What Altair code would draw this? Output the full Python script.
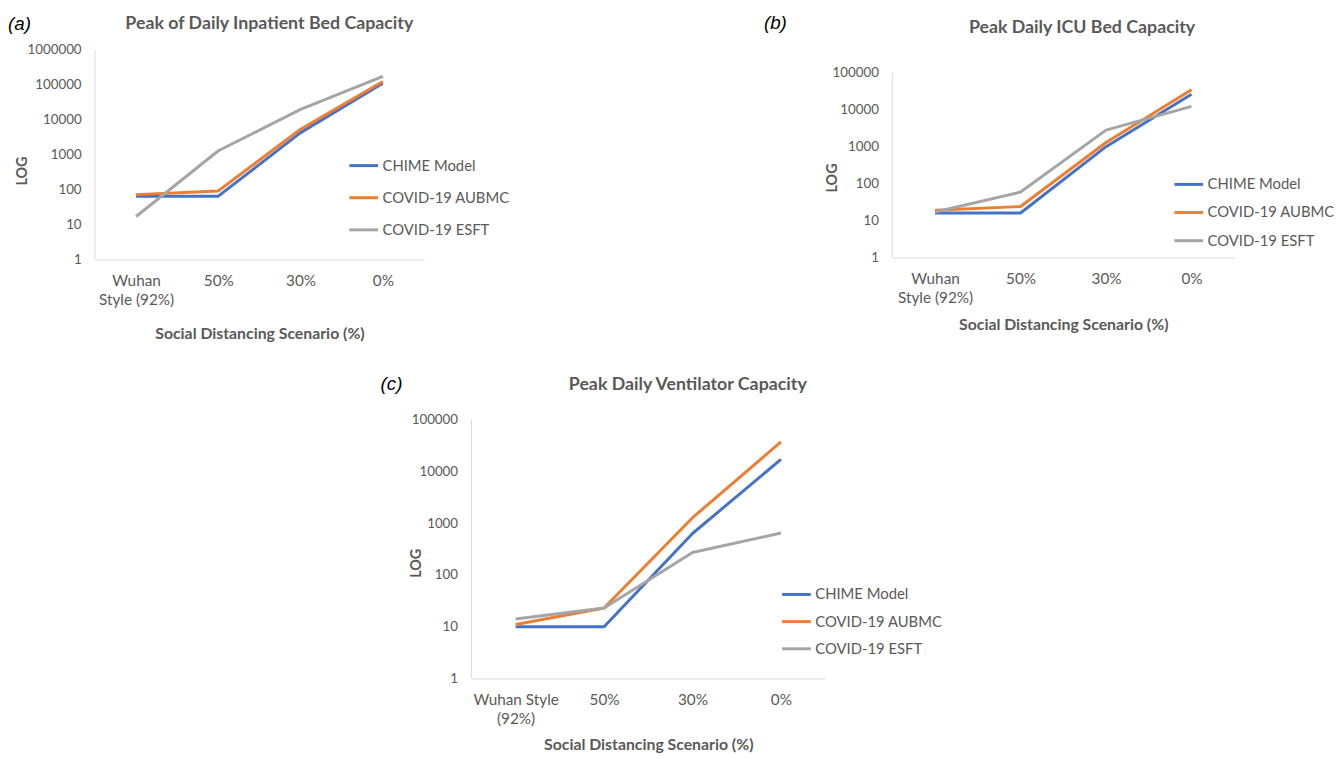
import math
import altair as alt
import pandas as pd

scenarios = ["Wuhan Style (92%)", "50%", "30%", "0%"]
series_names = ["CHIME Model", "COVID-19 AUBMC", "COVID-19 ESFT"]
series_colors = ["#4472C4", "#ED7D31", "#A5A5A5"]

# (a) Peak of Daily Inpatient Bed Capacity
inpatient_chime = [65, 65, 4300, 112000]
inpatient_aubmc = [72, 92, 5400, 125000]
inpatient_esft = [17, 1300, 20000, 175000]

# (b) Peak Daily ICU Bed Capacity
icu_chime = [16, 16, 1000, 26000]
icu_aubmc = [19, 24, 1290, 34500]
icu_esft = [17, 59, 2800, 12300]

# (c) Peak Daily Ventilator Capacity
vent_chime = [10, 10, 630, 17000]
vent_aubmc = [11, 23, 1270, 37000]
vent_esft = [14, 23, 270, 645]

FONT = "Lato"
GREY = "#595959"
AXIS_LINE = "#D9D9D9"


def table(chime, aubmc, esft):
    rows = []
    for name, vals in zip(series_names, [chime, aubmc, esft]):
        for s, v in zip(scenarios, vals):
            rows.append({"scenario": s, "series": name, "value": v})
    return pd.DataFrame(rows)


def panel(letter, title, df, w, h, ytop, ymax, wuhan_lines, lx, ly, rowpad,
          lpad, ytx, yty, letx, lety, toff, tdx, xtpad):
    label_expr = ("datum.label == 'Wuhan Style (92%)' ? "
                  f"['{wuhan_lines[0]}', '{wuhan_lines[1]}'] : datum.label")
    yvals = [10 ** i for i in range(0, int(round(math.log10(ymax))) + 1)]
    yscale = alt.Scale(type="log", domain=[1, ytop], nice=False)
    lines = alt.Chart(df).mark_line(strokeWidth=3, strokeJoin="round").encode(
        x=alt.X(
            "scenario:N", sort=scenarios, title="Social Distancing Scenario (%)",
            axis=alt.Axis(
                labelAngle=0, labelExpr=label_expr, ticks=False, grid=False,
                domainColor=AXIS_LINE, labelFont=FONT, labelFontSize=15.5,
                labelColor=GREY, labelPadding=14, labelLineHeight=20,
                titleFont=FONT, titleFontSize=16, titleFontWeight="bold",
                titleColor=GREY, titlePadding=xtpad,
            ),
        ),
        y=alt.Y(
            "value:Q", title="LOG", scale=yscale,
            axis=alt.Axis(
                values=yvals, format="d", ticks=False, grid=False,
                domain=False, labelFont=FONT, labelFontSize=13.5,
                labelColor=GREY, labelPadding=14, titleFont=FONT,
                titleFontSize=14.5, titleFontWeight="bold", titleColor=GREY,
                titleX=ytx, titleY=yty,
            ),
        ),
        color=alt.Color(
            "series:N",
            scale=alt.Scale(domain=series_names, range=series_colors),
            legend=alt.Legend(
                title=None, orient="none", legendX=lx, legendY=ly,
                symbolType="stroke", symbolSize=841, symbolStrokeWidth=3,
                labelFont=FONT, labelFontSize=15, labelColor=GREY,
                labelOffset=3, rowPadding=rowpad, padding=lpad,
            ),
        ),
    )
    # vertical axis line from 1 up to the top tick value
    yline = alt.Chart(pd.DataFrame({"lo": [1], "hi": [ymax]})).mark_rule(
        color=AXIS_LINE, strokeWidth=1
    ).encode(
        x=alt.value(0),
        y=alt.Y("lo:Q", scale=yscale),
        y2="hi:Q",
    )
    letter_mark = alt.Chart(pd.DataFrame({"t": [letter]})).mark_text(
        align="left", baseline="middle", font="Liberation Sans",
        fontSize=19, fontStyle="italic", color="black",
    ).encode(text="t:N", x=alt.value(letx), y=alt.value(lety))
    return alt.layer(yline, lines, letter_mark).properties(
        width=w, height=h,
        title=alt.TitleParams(
            text=title, anchor="middle", frame="group", font=FONT,
            fontSize=18, fontWeight="bold", color=GREY, offset=toff, dx=tdx,
        ),
    )


pa = panel("(a)", "Peak of Daily Inpatient Bed Capacity",
           table(inpatient_chime, inpatient_aubmc, inpatient_esft),
           333, 212, 1000000, 1000000, ["Wuhan", "Style (92%)"],
           256, 101, 8.5, 0, -66, 122, -88, -26, -18, 10, 17)
pb = panel("(b)", "Peak Daily ICU Bed Capacity",
           table(icu_chime, icu_aubmc, icu_esft),
           346, 210, 412000, 100000, ["Wuhan", "Style (92%)"],
           284, 120, 4.5, 0, -54, 129, -130, -27, -23, 19, 10)
pc = panel("(c)", "Peak Daily Ventilator Capacity",
           table(vent_chime, vent_aubmc, vent_esft),
           358, 262, 100000, 100000, ["Wuhan Style", "(92%)"],
           313 - 16, 161 - 16, 3.5, 16, -49, 145, -92, -36, -19, 40, 9)

top = alt.hconcat(pa, pb, spacing=257).resolve_scale(color="independent")
chart = alt.vconcat(top, pc, spacing=34, center=True).resolve_scale(
    color="independent"
).properties(
    padding={"left": 0, "top": 2, "right": 0, "bottom": 0}
).configure(
    font=FONT, view=alt.ViewConfig(strokeWidth=0)
)

chart.save("out.html", embed_options={"renderer": "svg", "actions": False})
